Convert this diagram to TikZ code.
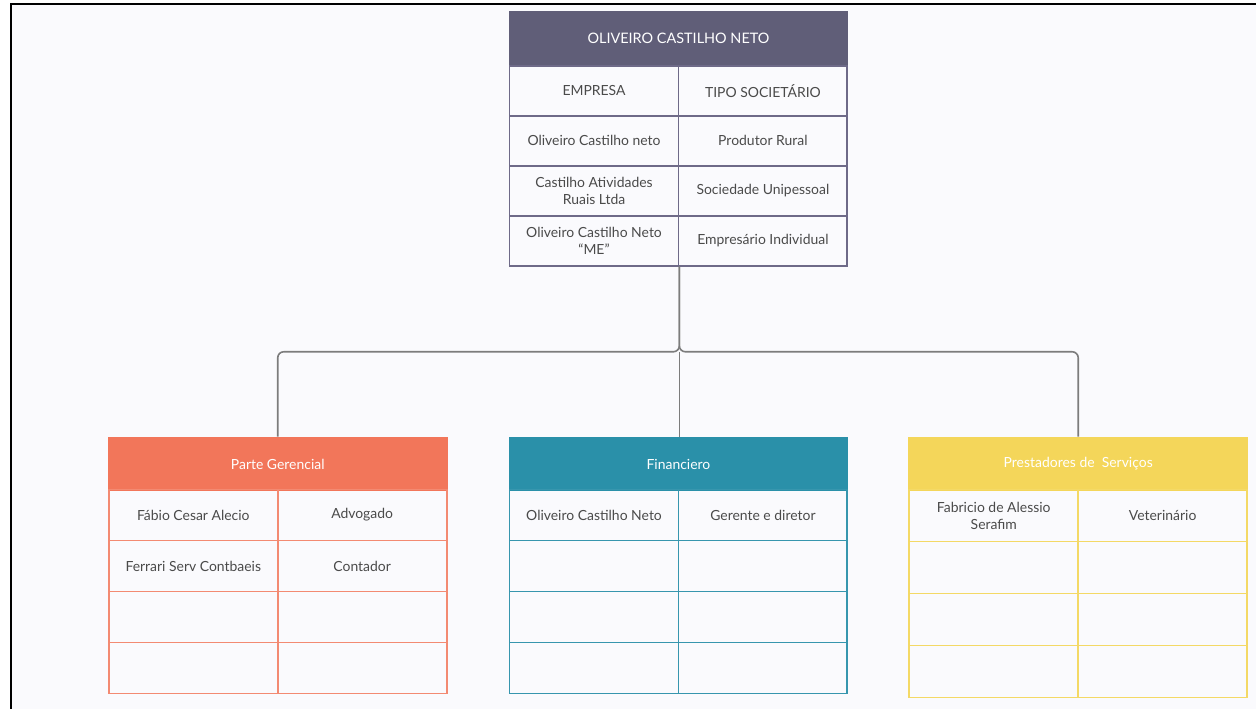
\documentclass[tikz,border=0pt]{standalone}
\usepackage{fontspec}
\setmainfont{Lato}
\definecolor{pagebg}{HTML}{FAFAFD}
\definecolor{ownercol}{HTML}{605E78}
\definecolor{ownerline}{HTML}{6E6A88}
\definecolor{gercol}{HTML}{F2765A}
\definecolor{gerline}{HTML}{F38A72}
\definecolor{fincol}{HTML}{2A90A9}
\definecolor{finline}{HTML}{3796AE}
\definecolor{prestcol}{HTML}{F4D65A}
\definecolor{prestline}{HTML}{F4D966}
\definecolor{textgray}{HTML}{4A4A4A}
\definecolor{linkgray}{HTML}{7C7C7C}

\begin{document}
\begin{tikzpicture}[x=1bp,y=-1bp,
  head node/.style={draw=#1,fill=#1,text=white,anchor=north west,inner sep=0pt,
    line width=1.8bp,minimum width=338bp,minimum height=53bp,
    font=\fontsize{14}{16}\selectfont},
  cell node/.style={draw=#1,text=textgray,anchor=north west,inner sep=0pt,
    line width=1.8bp,minimum width=169bp,minimum height=50bp,align=center,
    font=\fontsize{14}{17}\selectfont},
  link/.style={draw=linkgray,line width=1.6bp,rounded corners=6bp}]

  % page and frame
  \fill[white] (0,0) rectangle (1257,709);
  \fill[pagebg] (11,4) rectangle (1257,709);
  \draw[line width=1.6bp] (11,709) -- (11,4) -- (1257,4);

  % owner table
  \node[head node=ownercol,font=\fontsize{14.5}{16}\selectfont] (owner) at (509,11) {OLIVEIRO CASTILHO NETO};
  \node[cell node=ownerline] (emp0) at (509,65) {EMPRESA};
  \node[cell node=ownerline] (tipo0) at (678,65) {TIPO SOCIETÁRIO};
  \node[cell node=ownerline] (emp1) at (509,115) {Oliveiro Castilho neto};
  \node[cell node=ownerline] (tipo1) at (678,115) {Produtor Rural};
  \node[cell node=ownerline] (emp2) at (509,165) {Castilho Atividades\\Ruais Ltda};
  \node[cell node=ownerline] (tipo2) at (678,165) {Sociedade Unipessoal};
  \node[cell node=ownerline] (emp3) at (509,215) {Oliveiro Castilho Neto\\``ME''};
  \node[cell node=ownerline] (tipo3) at (678,215) {Empresário Individual};

  % parte gerencial
  \node[head node=gercol] (ger) at (108,437) {Parte Gerencial};
  \node[cell node=gerline,minimum height=51bp] (ger1a) at (108,489) {Fábio Cesar Alecio};
  \node[cell node=gerline,minimum height=51bp] (ger1b) at (277,489) {Advogado};
  \node[cell node=gerline,minimum height=51bp] (ger2a) at (108,540) {Ferrari Serv Contbaeis};
  \node[cell node=gerline,minimum height=51bp] (ger2b) at (277,540) {Contador};
  \node[cell node=gerline,minimum height=51bp] (ger3a) at (108,591) {};
  \node[cell node=gerline,minimum height=51bp] (ger3b) at (277,591) {};
  \node[cell node=gerline,minimum height=51bp] (ger4a) at (108,642) {};
  \node[cell node=gerline,minimum height=51bp] (ger4b) at (277,642) {};

  % financeiro
  \node[head node=fincol] (fin) at (509,437) {Financiero};
  \node[cell node=finline,minimum height=51bp] (fin1a) at (509,489) {Oliveiro Castilho Neto};
  \node[cell node=finline,minimum height=51bp] (fin1b) at (678,489) {Gerente e diretor};
  \node[cell node=finline,minimum height=51bp] (fin2a) at (509,540) {};
  \node[cell node=finline,minimum height=51bp] (fin2b) at (678,540) {};
  \node[cell node=finline,minimum height=51bp] (fin3a) at (509,591) {};
  \node[cell node=finline,minimum height=51bp] (fin3b) at (678,591) {};
  \node[cell node=finline,minimum height=51bp] (fin4a) at (509,642) {};
  \node[cell node=finline,minimum height=51bp] (fin4b) at (678,642) {};

  % prestadores
  \node[head node=prestcol] (prest) at (909,437) {Prestadores de\ \ Serviços};
  \node[cell node=prestline,minimum height=52bp] (prest1a) at (909,489) {Fabricio de Alessio\\Serafim};
  \node[cell node=prestline,minimum height=52bp] (prest1b) at (1078,489) {Veterinário};
  \node[cell node=prestline,minimum height=52bp] (prest2a) at (909,541) {};
  \node[cell node=prestline,minimum height=52bp] (prest2b) at (1078,541) {};
  \node[cell node=prestline,minimum height=52bp] (prest3a) at (909,593) {};
  \node[cell node=prestline,minimum height=52bp] (prest3b) at (1078,593) {};
  \node[cell node=prestline,minimum height=52bp] (prest4a) at (909,645) {};
  \node[cell node=prestline,minimum height=52bp] (prest4b) at (1078,645) {};

  % links
  \coordinate (hub) at (emp3.south east |- 0,352);
  \draw[link] (ger.north) |- (hub) -- (emp3.south east);
  \draw[link] (prest.north) |- (hub) -- (emp3.south east);
  \draw[link] (hub) -- (hub |- fin.north);
\end{tikzpicture}
\end{document}
